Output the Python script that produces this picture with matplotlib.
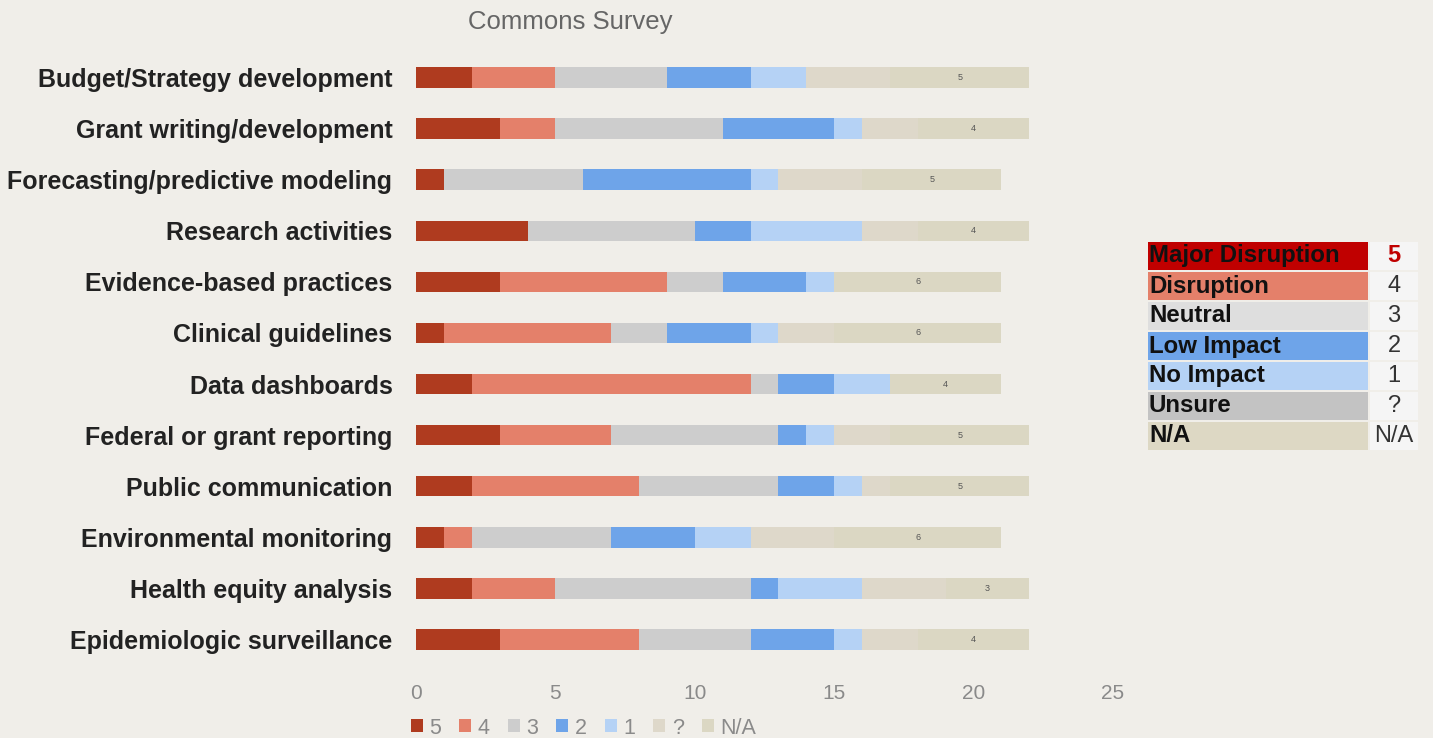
import numpy as np
import matplotlib
matplotlib.use("Agg")
import matplotlib.pyplot as plt
from matplotlib.patches import Patch, Rectangle

plt.rcParams['font.family'] = ['Liberation Sans', 'DejaVu Sans']

# 資料
categories = ['Budget/Strategy development', 'Grant writing/development',
              'Forecasting/predictive modeling', 'Research activities',
              'Evidence-based practices', 'Clinical guidelines', 'Data dashboards',
              'Federal or grant reporting', 'Public communication',
              'Environmental monitoring', 'Health equity analysis',
              'Epidemiologic surveillance']
series_names = ['5', '4', '3', '2', '1', '?', 'N/A']
v5 = [2, 3, 1, 4, 3, 1, 2, 3, 2, 1, 2, 3]
v4 = [3, 2, 0, 0, 6, 6, 10, 4, 6, 1, 3, 5]
v3 = [4, 6, 5, 6, 2, 2, 1, 6, 5, 5, 7, 4]
v2 = [3, 4, 6, 2, 3, 3, 2, 1, 2, 3, 1, 3]
v1 = [2, 1, 1, 4, 1, 1, 2, 1, 1, 2, 3, 1]
vq = [3, 2, 3, 2, 0, 2, 0, 2, 1, 3, 3, 2]
vna = [5, 4, 5, 4, 6, 6, 4, 5, 5, 6, 3, 4]
x_ticks = [0, 5, 10, 15, 20, 25]

key_labels = ['Major Disruption', 'Disruption', 'Neutral', 'Low Impact',
              'No Impact', 'Unsure', 'N/A']
key_codes = ['5', '4', '3', '2', '1', '?', 'N/A']

colors = ['#AF3B1F', '#E4806A', '#CDCDCD', '#6EA4E9', '#B5D2F5', '#DED8CA', '#DBD7C3']
key_colors = ['#C00000', '#E4806A', '#DEDEDE', '#6EA4E9', '#B5D2F5', '#C3C3C3', '#DDD8C4']
bg = '#F0EEE9'

fig = plt.figure(figsize=(14.33, 7.38), dpi=100, facecolor=bg)
ax = fig.add_axes([416 / 1433, 1 - 665 / 738, 697 / 1433, 613 / 738], facecolor=bg)

y = np.arange(len(categories))
all_vals = [v5, v4, v3, v2, v1, vq, vna]
left = np.zeros(len(categories))
for name, vals, c in zip(series_names, all_vals, colors):
    vals = np.array(vals, dtype=float)
    bars = ax.barh(y, vals, left=left, height=0.4, color=c, label=name)
    if name == 'N/A':
        for b, v in zip(bars, vals):
            ax.text(b.get_x() + b.get_width() / 2, b.get_y() + b.get_height() / 2,
                    f'{int(v)}', ha='center', va='center', fontsize=6.5, color='#555555')
    left += vals

ax.set_xlim(0, 25)
ax.set_ylim(len(categories) - 0.5, -0.5)
ax.set_xticks(x_ticks)
ax.set_yticks(y)
ax.set_yticklabels(categories, fontsize=18, fontweight='bold', color='#222222')
ax.tick_params(axis='x', length=0, pad=14, labelsize=15, labelcolor='#8A8A8A')
ax.tick_params(axis='y', length=0, pad=17)
for s in ax.spines.values():
    s.set_visible(False)

fig.text(570 / 1433, 1 - 22 / 738, 'Commons Survey', ha='center', va='center',
         fontsize=18.5, color='#666666')

# 底部圖例
handles = [Patch(facecolor=c, edgecolor='none') for c in colors]
leg = fig.legend(handles, series_names, loc='center left',
                 bbox_to_anchor=(400 / 1433, 1 - 728 / 738), ncol=7, frameon=False,
                 fontsize=15.5, handlelength=0.55, handleheight=0.55, handletextpad=0.3,
                 columnspacing=0.85, borderpad=0)
for t in leg.get_texts():
    t.set_color('#8A8A8A')

# 右側色彩說明表
kx0, kx1, kx2 = 1148 / 1433, 1370 / 1433, 1418 / 1433
ky_top = 1 - 241 / 738
row_h = 30 / 738
for i, (lab, code, kc) in enumerate(zip(key_labels, key_codes, key_colors)):
    yb = ky_top - (i + 1) * row_h
    fig.patches.append(Rectangle((kx0, yb + 1 / 738), kx1 - kx0 - 2 / 1433, row_h - 2 / 738,
                                 transform=fig.transFigure, facecolor=kc, edgecolor='none'))
    fig.patches.append(Rectangle((kx1, yb + 1 / 738), kx2 - kx1, row_h - 2 / 738,
                                 transform=fig.transFigure, facecolor='#F5F5F5', edgecolor='none'))
    fig.text(kx0 + 1 / 1433, yb + row_h / 2, lab, ha='left', va='center',
             fontsize=17.3, fontweight='bold', color='#111111')
    fig.text((kx1 + kx2) / 2, yb + row_h / 2, code, ha='center', va='center',
             fontsize=17, fontweight='bold' if code == '5' else 'normal',
             color='#C00000' if code == '5' else '#333333')

fig.savefig('out.png', dpi=100, facecolor=bg)
